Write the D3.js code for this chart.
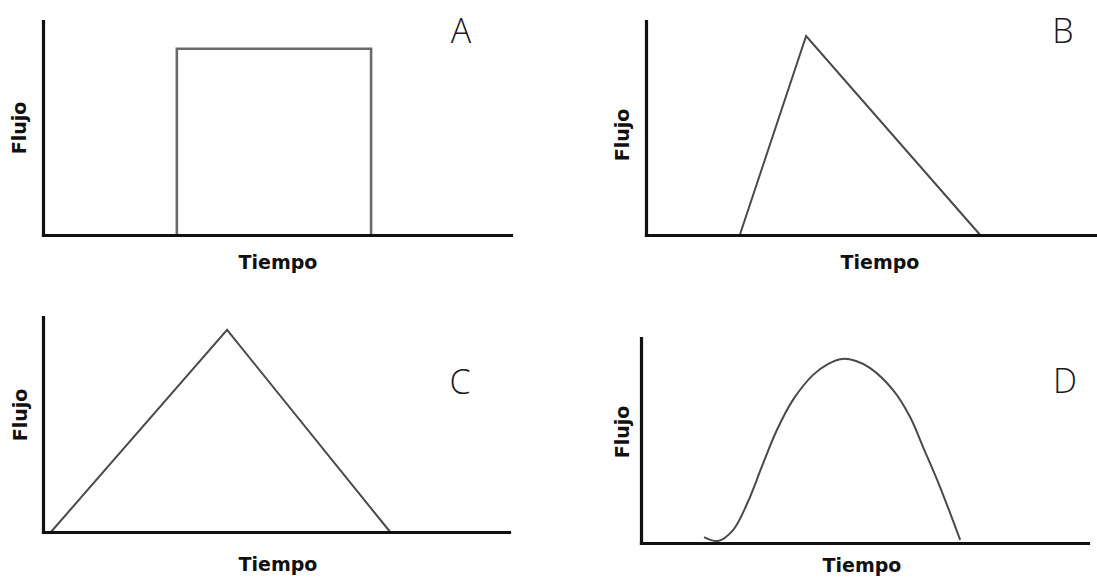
<!DOCTYPE html>
<html>
<head>
    <title>Hidrogramas</title>
    <script src="https://cdn.jsdelivr.net/npm/d3@7"></script>
    <style>
        body { margin: 0; background: #fff; }
        .axis-label { font-family: "DejaVu Sans", sans-serif; font-size: 19px; font-weight: bold; fill: #111; }
        .panel-letter { font-family: "Open Sans", sans-serif; font-size: 34px; font-weight: 300; fill: #1a1a1a; }
    </style>
</head>
<body>
    <svg width="1097" height="581" id="mainsvg" style="display: block;"></svg>
    <script>
        // values: tiempo and flujo in % of each axis
        const tiempoA = [28.6, 28.6, 70.1, 70.1];
        const flujoA  = [0, 87, 87, 0];

        const tiempoB = [20.8, 35.5, 74.1];
        const flujoB  = [0, 93, 0];

        const tiempoC = [1.7, 39.5, 74.5];
        const flujoC  = [0, 94, 0];

        const tiempoD = [14.1, 17.2, 20.6, 23.9, 27.1, 30.4, 34.0, 38.5, 41.8, 45.0, 48.1, 51.2, 56.4, 60.2, 63.1, 66.9, 71.4];
        const flujoD  = [2.9, 1.0, 6.3, 20.0, 37.6, 55.1, 69.8, 82.0, 87.3, 89.8, 88.8, 85.4, 74.6, 61.5, 46.8, 27.3, 1.5];

        const letters = ['A', 'B', 'C', 'D'];
        const xLabel = 'Tiempo';
        const yLabel = 'Flujo';

        const svg = d3.select('#mainsvg');

        // pixel frame of every small chart
        const panels = [
            { x0: 43,  x1: 511,  yBase: 235, yTop: 21,  t: tiempoA, f: flujoA, curve: d3.curveLinear,
              letter: [461, 43],  flujo: [26, 128],  tiempo: [278, 269] },
            { x0: 646, x1: 1097, yBase: 235, yTop: 21,  t: tiempoB, f: flujoB, curve: d3.curveLinear,
              letter: [1063, 43], flujo: [629, 135], tiempo: [880, 269] },
            { x0: 43,  x1: 509,  yBase: 532, yTop: 317, t: tiempoC, f: flujoC, curve: d3.curveLinear,
              letter: [460, 394], flujo: [27, 415],  tiempo: [278, 571] },
            { x0: 641, x1: 1088, yBase: 543, yTop: 338, t: tiempoD, f: flujoD, curve: d3.curveCatmullRom.alpha(0.5),
              letter: [1065, 393], flujo: [629, 432], tiempo: [862, 572] }
        ];

        panels.forEach((p, i) => {
            const g = svg.append('g');

            const xScale = d3.scaleLinear().domain([0, 100]).range([p.x0, p.x1]);
            const yScale = d3.scaleLinear().domain([0, 100]).range([p.yBase, p.yTop]);

            const pts = p.t.map((t, k) => [t, p.f[k]]);
            const line = d3.line()
                .x(d => xScale(d[0]))
                .y(d => yScale(d[1]))
                .curve(p.curve);

            g.append('path')
                .attr('d', line(pts))
                .attr('fill', 'none')
                .attr('stroke', i === 0 ? '#6a6a6a' : '#4a4a4a')
                .attr('stroke-width', i === 0 ? 2.6 : 2)
                .attr('stroke-linejoin', 'miter');

            // axes without ticks
            const xAxis = g.append('g')
                .attr('transform', `translate(0, ${p.yBase})`)
                .call(d3.axisBottom(xScale).ticks(0).tickSizeOuter(0));
            const yAxis = g.append('g')
                .attr('transform', `translate(${p.x0}, 0)`)
                .call(d3.axisLeft(yScale).ticks(0).tickSizeOuter(0));
            [xAxis, yAxis].forEach(a => a.select('.domain')
                .attr('stroke', '#111')
                .attr('stroke-width', 3.2)
                .attr('stroke-linecap', 'square'));

            g.append('text')
                .attr('class', 'panel-letter')
                .attr('x', p.letter[0])
                .attr('y', p.letter[1])
                .attr('text-anchor', 'middle')
                .text(letters[i]);

            g.append('text')
                .attr('class', 'axis-label')
                .attr('x', p.tiempo[0])
                .attr('y', p.tiempo[1])
                .attr('text-anchor', 'middle')
                .text(xLabel);

            g.append('text')
                .attr('class', 'axis-label')
                .attr('transform', `translate(${p.flujo[0]}, ${p.flujo[1]}) rotate(-90)`)
                .attr('text-anchor', 'middle')
                .text(yLabel);
        });
    </script>
</body>
</html>
